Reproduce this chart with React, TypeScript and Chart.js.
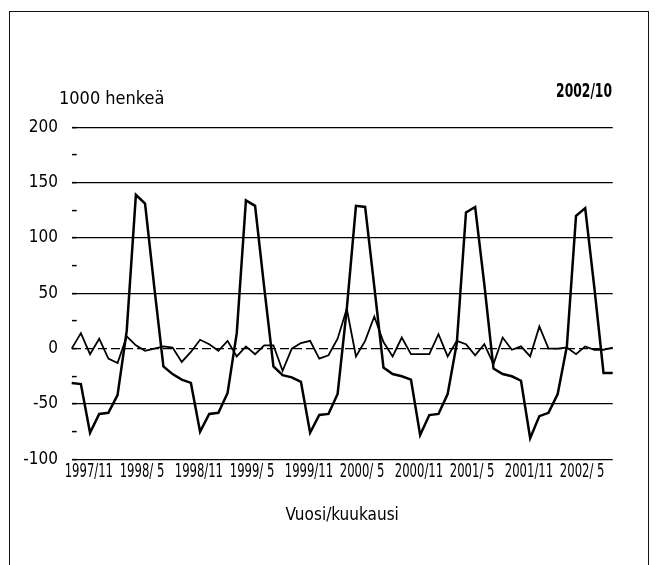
import React, { useEffect, useRef } from "react";
import { Chart, registerables } from "chart.js";

Chart.register(...registerables);

const months = [
  "1997/11", "1997/12",
  "1998/ 1", "1998/ 2", "1998/ 3", "1998/ 4", "1998/ 5", "1998/ 6", "1998/ 7", "1998/ 8", "1998/ 9", "1998/10", "1998/11", "1998/12",
  "1999/ 1", "1999/ 2", "1999/ 3", "1999/ 4", "1999/ 5", "1999/ 6", "1999/ 7", "1999/ 8", "1999/ 9", "1999/10", "1999/11", "1999/12",
  "2000/ 1", "2000/ 2", "2000/ 3", "2000/ 4", "2000/ 5", "2000/ 6", "2000/ 7", "2000/ 8", "2000/ 9", "2000/10", "2000/11", "2000/12",
  "2001/ 1", "2001/ 2", "2001/ 3", "2001/ 4", "2001/ 5", "2001/ 6", "2001/ 7", "2001/ 8", "2001/ 9", "2001/10", "2001/11", "2001/12",
  "2002/ 1", "2002/ 2", "2002/ 3", "2002/ 4", "2002/ 5", "2002/ 6", "2002/ 7", "2002/ 8", "2002/ 9", "2002/10",
];

const shownTicks = [
  "1997/11", "1998/ 5", "1998/11", "1999/ 5", "1999/11",
  "2000/ 5", "2000/11", "2001/ 5", "2001/11", "2002/ 5",
];

// Large seasonal series (1000 persons)
const seriesLarge = [
  -31, -32, -76, -59, -58, -42, 16, 139, 131, 56, -16, -23, -28, -31,
  -75, -59, -58, -40, 14, 134, 129, 55, -16, -24, -26, -30,
  -76, -60, -59, -41, 36, 129, 128, 56, -17, -23, -25, -28,
  -78, -60, -59, -41, 5, 123, 128, 58, -18, -23, -25, -29,
  -81, -61, -58, -41, 2, 120, 127, 55, -22, -22,
];

// Small series fluctuating around zero (1000 persons)
const seriesSmall = [
  0, 14, -5, 9, -9, -13, 11, 3, -2, 0, 2, 1, -12, -3,
  8, 4, -2, 7, -7, 2, -5, 3, 3, -20, 0, 5,
  7, -9, -6, 9, 36, -7, 7, 29, 6, -7, 10, -5,
  -5, -5, 13, -7, 7, 4, -6, 4, -14, 10, -1, 2,
  -7, 20, 0, 0, 1, -5, 2, -1, -1, 1,
];

const yUnit = "1000 henkeä";
const period = "2002/10";
const xTitle = "Vuosi/kuukausi";

const COND = '"DejaVu Sans Condensed", "DejaVu Sans", sans-serif';

// draws condensed text (horizontally squeezed) for tick labels and the period stamp
const textPlugin = {
  id: "condensedTexts",
  afterDraw(chart: any) {
    const { ctx } = chart;
    const xs = chart.scales.x;
    ctx.save();
    ctx.fillStyle = "#000";
    ctx.textBaseline = "alphabetic";

    ctx.font = `18px ${COND}`;
    ctx.textAlign = "left";
    ctx.fillText(yUnit, 59, 103.5);

    ctx.save();
    ctx.translate(612, 97);
    ctx.scale(0.72, 1);
    ctx.font = `bold 19px ${COND}`;
    ctx.textAlign = "right";
    ctx.fillText(period, 0, 0);
    ctx.restore();

    const baseY = xs.top + 18;
    months.forEach((m, i) => {
      if (!shownTicks.includes(m)) return;
      const x = xs.getPixelForValue(i) - 7;
      ctx.save();
      ctx.translate(x, baseY);
      ctx.scale(0.68, 1);
      ctx.font = `19px ${COND}`;
      ctx.textAlign = "left";
      ctx.fillText(m, 0, 0);
      ctx.restore();
    });
    ctx.restore();
  },
};

export default function App() {
  const ref = useRef<HTMLCanvasElement | null>(null);

  useEffect(() => {
    if (!ref.current) return;
    const chart = new Chart(ref.current, {
      type: "line",
      data: {
        labels: months,
        datasets: [
          {
            label: "a",
            data: seriesLarge,
            borderColor: "#000",
            borderWidth: 2.5,
            pointRadius: 0,
            tension: 0,
            fill: false,
          },
          {
            label: "b",
            data: seriesSmall,
            borderColor: "#000",
            borderWidth: 1.8,
            pointRadius: 0,
            tension: 0,
            fill: false,
          },
        ],
      },
      options: {
        animation: false,
        responsive: false,
        layout: { padding: { top: 127.3, right: 43.3, bottom: 39.1, left: 0 } },
        plugins: { legend: { display: false }, tooltip: { enabled: false }, title: { display: false } },
        scales: {
          x: {
            type: "category",
            offset: false,
            grid: { display: false, drawTicks: false },
            border: { display: false },
            ticks: { display: false, autoSkip: false, maxRotation: 0, minRotation: 0 },
            title: {
              display: true,
              text: xTitle,
              color: "#000",
              font: { family: COND, size: 17 },
              padding: 0,
            },
            afterFit: (s: any) => {
              s.height = 66.6;
            },
          },
          y: {
            min: -100,
            max: 200,
            ticks: {
              stepSize: 25,
              padding: 18.7,
              color: "#000",
              font: { family: COND, size: 17 },
              callback: (v: any) => (Number(v) % 50 === 0 ? String(v) : ""),
            },
            grid: {
              color: (c: any) => (c.tick && c.tick.value % 50 === 0 ? "#000" : "rgba(0,0,0,0)"),
              lineWidth: 1.2,
              drawTicks: true,
              tickLength: -5,
              tickColor: "#000",
              tickWidth: 1.5,
            },
            border: {
              display: false,
              dash: (c: any) => (c.tick && c.tick.value === 0 ? [9, 4] : []),
            },
            afterFit: (s: any) => {
              s.width = 71.7;
            },
          },
        },
      },
      plugins: [textPlugin],
    });
    return () => chart.destroy();
  }, []);

  return (
    <div>
      <div
        style={{
          position: "absolute",
          left: 9,
          top: 11,
          width: 640,
          height: 554,
          boxSizing: "border-box",
          borderTop: "1px solid #111",
          borderLeft: "1px solid #111",
          borderRight: "1px solid #111",
        }}
      />
      <canvas
        ref={ref}
        width={656}
        height={565}
        style={{ position: "absolute", left: 0, top: 0, display: "block" }}
      />
    </div>
  );
}
